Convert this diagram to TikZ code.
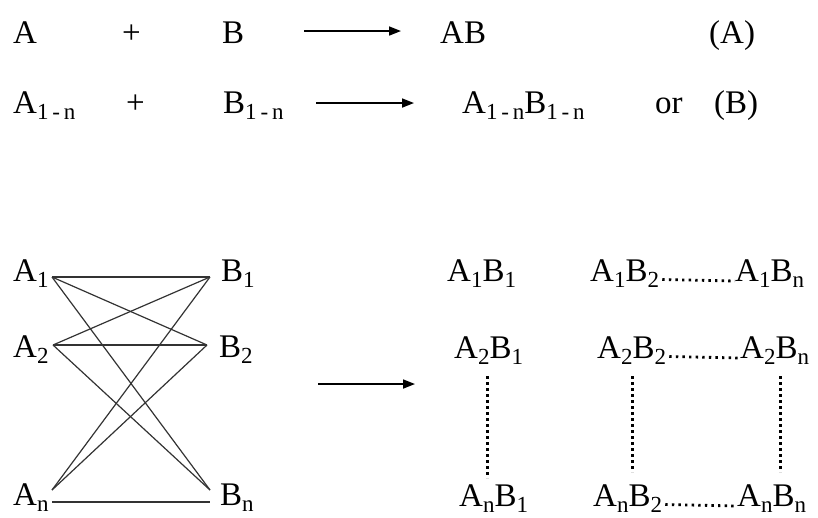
\documentclass[tikz,border=0pt]{standalone}
\usepackage{fontspec}
\setmainfont{Liberation Serif}
\usetikzlibrary{arrows.meta}
\newcommand\lo[1]{\raisebox{-0.2em}{\fontsize{23}{23}\selectfont #1}}
\begin{document}
\begin{tikzpicture}[x=1pt,y=-1pt,
  txt/.style={anchor=base west,inner sep=0pt,font=\fontsize{33}{38}\selectfont},
  arr/.style={line width=1.7pt,-{Triangle[length=12pt,width=9pt]}},
  link/.style={line width=1.2pt,black!80},
  vdots/.style={line width=3pt,dash pattern=on 2.6pt off 3.4pt},
  hdots/.style={line width=2.8pt,dash pattern=on 2.4pt off 4.2pt}]
\useasboundingbox (0,0) rectangle (818,517);
% row 1
\node[txt] (a) at (13,43) {A};
\node[txt] (p1) at (122,43) {+};
\node[txt] (b) at (222,43) {B};
\coordinate (r1s) at (304,31);
\coordinate (r1e) at (401,31);
\draw[arr] (r1s) -- (r1e);
\node[txt] (ab) at (440,43) {AB};
\node[txt] (la) at (709,43) {(A)};
% row 2
\node[txt] (an1) at (13,113) {A\lo{1\,-\,n}};
\node[txt] (p2) at (126,113) {+};
\node[txt] (bn1) at (223,113) {B\lo{1\,-\,n}};
\coordinate (r2s) at (316,103);
\coordinate (r2e) at (414,103);
\draw[arr] (r2s) -- (r2e);
\node[txt] (abn) at (462,113) {A\lo{1\,-\,n}B\lo{1\,-\,n}};
\node[txt] (or) at (655,113) {or};
\node[txt] (lb) at (714,113) {(B)};
% bipartite
\node[txt] (A1) at (13,281) {A\lo{1}};
\node[txt] (A2) at (13,357) {A\lo{2}};
\node[txt] (An) at (13,505) {A\lo{n}};
\node[txt] (B1) at (221,281) {B\lo{1}};
\node[txt] (B2) at (219,357) {B\lo{2}};
\node[txt] (Bn) at (220,505) {B\lo{n}};
\coordinate (a1) at (52,277);
\coordinate (a2) at (53,345);
\coordinate (an) at (52,490);
\coordinate (b1) at (210,277);
\coordinate (b2) at (207,345);
\coordinate (bn) at (210,490);
\coordinate (anl) at (52,502);
\coordinate (bnl) at (210,502);
\foreach \u in {a1,a2} \foreach \v in {b1,b2,bn} \draw[link] (\u) -- (\v);
\draw[link] (an) -- (b1);
\draw[link] (an) -- (b2);
\draw[link] (anl) -- (bnl);
% big arrow
\coordinate (m1) at (318,384);
\coordinate (m2) at (415,384);
\draw[arr] (m1) -- (m2);
% product grid
\node[txt] (A1B1) at (447,281) {A\lo{1}B\lo{1}};
\node[txt] (A1B2) at (590,281) {A\lo{1}B\lo{2}};
\node[txt] (A1Bn) at (735,281) {A\lo{1}B\lo{n}};
\node[txt] (A2B1) at (454,358) {A\lo{2}B\lo{1}};
\node[txt] (A2B2) at (597,358) {A\lo{2}B\lo{2}};
\node[txt] (A2Bn) at (740,358) {A\lo{2}B\lo{n}};
\node[txt] (AnB1) at (459,506) {A\lo{n}B\lo{1}};
\node[txt] (AnB2) at (593,506) {A\lo{n}B\lo{2}};
\node[txt] (AnBn) at (737,506) {A\lo{n}B\lo{n}};
\draw[hdots] (A1B2.base east) ++(3,-1.5) coordinate (h1s) -- (A1Bn.base west);
\draw[hdots] (A2B2.base east) ++(3,-1.5) coordinate (h2s) -- (A2Bn.base west);
\draw[hdots] (AnB2.base east) ++(3,-1.5) coordinate (h3s) -- (AnBn.base west);
\coordinate (v1s) at (487,376); \coordinate (v1e) at (487,478);
\coordinate (v2s) at (632,376); \coordinate (v2e) at (632,472);
\coordinate (v3s) at (780,376); \coordinate (v3e) at (780,472);
\draw[vdots] (v1s) -- (v1e);
\draw[vdots] (v2s) -- (v2e);
\draw[vdots] (v3s) -- (v3e);
\end{tikzpicture}
\end{document}
